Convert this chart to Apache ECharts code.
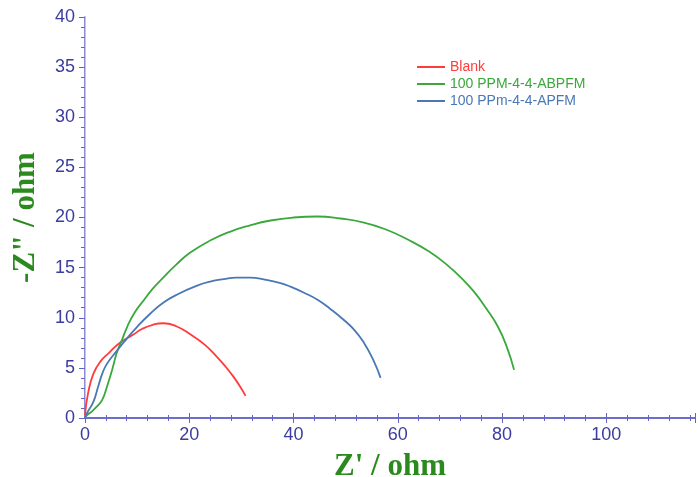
<!DOCTYPE html>
<html>
<head>
<meta charset="utf-8">
<script src="https://cdn.jsdelivr.net/npm/echarts@6/dist/echarts.min.js"></script>
<style>
  html, body { margin: 0; padding: 0; background: #fff; }
  #main { width: 698px; height: 477px; }
</style>
</head>
<body>
<div id="main"></div>
<script>
// Nyquist data (Z' / ohm, -Z'' / ohm)
var blankX = [0, 0.6, 1.6, 2.9, 4.8, 6.7, 9.2, 11, 13, 15, 17.5, 20.2, 23, 25.3, 27, 28.5, 29.8, 30.8];
var blankY = [0.3, 2.5, 4.4, 5.6, 6.6, 7.5, 8.3, 8.9, 9.3, 9.45, 9.15, 8.35, 7.3, 6.1, 5.1, 4.1, 3.1, 2.2];

var abpfmX = [0, 0.4, 1.2, 2.2, 3.3, 4.2, 5.2, 6.1, 7.1, 8.1, 9.5, 11.2, 13, 15, 17.5, 20.2, 24, 27.9, 31.5, 35.6, 40, 44.6, 49, 53.5, 57.5, 61.9, 66, 69.6, 72.3, 74.6, 77, 79.2, 80.9, 82.3];
var abpfmY = [0, 0.3, 0.6, 1.1, 1.8, 3.1, 4.8, 6.5, 7.8, 9.1, 10.5, 11.7, 12.9, 14.0, 15.3, 16.5, 17.7, 18.6, 19.2, 19.7, 20, 20.1, 19.9, 19.5, 18.85, 17.8, 16.6, 15.2, 13.9, 12.6, 10.9, 9.1, 7.1, 4.8];

var apfmX = [0, 0.4, 1.6, 2.5, 3.3, 4.2, 6.1, 8, 10, 12.5, 15, 18, 21.5, 24, 26.6, 29, 31.7, 34.5, 37.5, 39.4, 42, 44.6, 47, 49.6, 51.8, 53.5, 55.2, 56.7];
var apfmY = [0, 0.5, 1.6, 3.1, 4.4, 5.4, 6.7, 7.9, 9.1, 10.4, 11.5, 12.4, 13.2, 13.6, 13.85, 14, 14, 13.8, 13.45, 13.1, 12.5, 11.8, 10.9, 9.8, 8.7, 7.5, 5.9, 4.0];

var seriesNames = ['Blank', '100 PPM-4-4-ABPFM', '100 PPm-4-4-APFM'];
var seriesColors = ['#ff3b3b', '#3aa83a', '#4a78b4'];

var xTicks = { min: 0, max: 117, interval: 20 };
var yTicks = { min: 0, max: 40, interval: 5 };

function zip(xs, ys) {
    return xs.map(function (x, i) { return [x, ys[i]]; });
}

var axisBlue = '#6464c8';
var labelBlue = '#3c3ca0';
var titleGreen = '#2a8a1e';

var chart = echarts.init(document.getElementById('main'));

var option = {
    backgroundColor: '#fff',
    animation: false,
    grid: { left: 85, top: 17, right: 3, bottom: 59, containLabel: false, outerBoundsMode: 'none' },
    legend: {
        orient: 'vertical',
        left: 412,
        top: 55,
        itemGap: 3,
        itemWidth: 28,
        itemHeight: 2,
        icon: 'rect',
        textStyle: { fontFamily: 'Liberation Sans, Arial', fontSize: 14 },
        data: seriesNames.map(function (n, i) {
            return { name: n, textStyle: { color: seriesColors[i] } };
        })
    },
    xAxis: [{
        type: 'value',
        min: xTicks.min, max: xTicks.max, interval: xTicks.interval,
        name: "Z' / ohm",
        nameLocation: 'middle',
        nameGap: 33,
        nameTextStyle: { fontFamily: 'Liberation Serif, Times New Roman', fontWeight: 'bold', fontSize: 31, color: titleGreen },
        axisLine: { show: true, lineStyle: { color: axisBlue, width: 1.5 } },
        axisTick: { show: true, length: 5, inside: false, lineStyle: { color: axisBlue } },
        minorTick: { show: true, splitNumber: 5, length: 3, lineStyle: { color: axisBlue } },
        axisLabel: { color: labelBlue, fontSize: 18, fontFamily: 'Liberation Sans, Arial', margin: 8, showMaxLabel: false },
        splitLine: { show: false }
    }, {
        type: 'value',
        position: 'top',
        min: xTicks.min, max: xTicks.max, interval: xTicks.interval,
        axisLine: { show: true, lineStyle: { color: axisBlue, width: 1.5 } },
        axisTick: { show: true, length: 5, inside: false, lineStyle: { color: axisBlue } },
        minorTick: { show: true, splitNumber: 5, length: 3, lineStyle: { color: axisBlue } },
        axisLabel: { show: false },
        splitLine: { show: false }
    }],
    yAxis: [{
        type: 'value',
        min: yTicks.min, max: yTicks.max, interval: yTicks.interval,
        name: '-Z" / ohm',
        nameLocation: 'middle',
        nameGap: 44,
        nameTextStyle: { fontFamily: 'Liberation Serif, Times New Roman', fontWeight: 'bold', fontSize: 31, color: titleGreen },
        axisLine: { show: true, lineStyle: { color: axisBlue, width: 1.5 } },
        axisTick: { show: true, length: 6, inside: false, lineStyle: { color: axisBlue } },
        minorTick: { show: true, splitNumber: 5, length: 4, lineStyle: { color: axisBlue } },
        axisLabel: { color: labelBlue, fontSize: 18, fontFamily: 'Liberation Sans, Arial', margin: 10 },
        splitLine: { show: false }
    }, {
        type: 'value',
        position: 'right',
        min: yTicks.min, max: yTicks.max,
        axisLine: { show: true, lineStyle: { color: '#c4c4e4', width: 1 } },
        axisTick: { show: false },
        axisLabel: { show: false },
        splitLine: { show: false }
    }],
    series: [
        { name: seriesNames[0], data: zip(blankX, blankY) },
        { name: seriesNames[1], data: zip(abpfmX, abpfmY) },
        { name: seriesNames[2], data: zip(apfmX, apfmY) }
    ].map(function (s, i) {
        return {
            name: s.name,
            type: 'line',
            data: s.data,
            smooth: 0.5,
            showSymbol: false,
            color: seriesColors[i],
            lineStyle: { width: 1.8, color: seriesColors[i] }
        };
    })
};

chart.setOption(option);
</script>
</body>
</html>
